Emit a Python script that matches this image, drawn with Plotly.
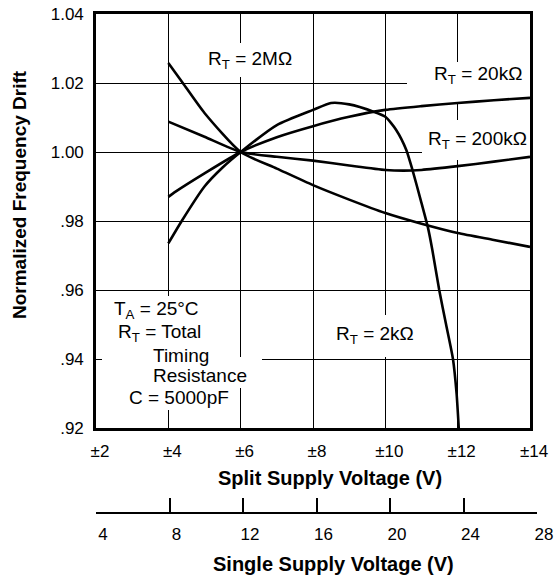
import plotly.graph_objects as go

# ---------------- data ----------------
x_2M = [4.0, 4.4, 5.0, 6.0, 7.0, 8.0, 9.0, 10.0, 11.0, 12.0, 13.0, 14.0]
y_2M = [1.0258, 1.020, 1.0113, 1.000, 0.9952, 0.9904, 0.9862, 0.9823, 0.9792, 0.9765, 0.9745, 0.9725]

x_200k = [4.0, 5.0, 6.0, 7.0, 8.0, 9.0, 10.0, 10.5, 11.0, 12.0, 13.0, 14.0]
y_200k = [1.0088, 1.0044, 1.000, 0.9986, 0.9975, 0.9961, 0.9948, 0.9946, 0.9948, 0.9959, 0.9972, 0.9986]

x_20k = [4.0, 4.2, 5.0, 6.0, 7.0, 8.0, 9.0, 10.0, 11.0, 12.0, 13.0, 14.0]
y_20k = [0.9870, 0.9885, 0.9938, 1.000, 1.0043, 1.0075, 1.0102, 1.0122, 1.0133, 1.0142, 1.0150, 1.0157]

x_2k = [4.0, 4.37, 5.0, 5.5, 6.0, 7.0, 8.0, 8.5, 9.0, 9.67, 10.0, 10.3, 10.58, 10.75, 10.98, 11.18,
        11.3, 11.49, 11.68, 11.87, 11.97, 12.03]
y_2k = [0.9735, 0.980, 0.990, 0.9955, 1.000, 1.0078, 1.0122, 1.0142, 1.0138, 1.0117, 1.0102, 1.0064,
        1.0006, 0.9948, 0.986, 0.978, 0.9716, 0.960, 0.950, 0.940, 0.930, 0.920]

split_ticks = [2, 4, 6, 8, 10, 12, 14]
split_labels = ["±2", "±4", "±6", "±8", "±10", "±12", "±14"]
single_ticks = [4, 8, 12, 16, 20, 24, 28]
single_labels = ["4", "8", "12", "16", "20", "24", "28"]
y_ticks = [0.92, 0.94, 0.96, 0.98, 1.00, 1.02, 1.04]
y_labels = [".92", ".94", ".96", ".98", "1.00", "1.02", "1.04"]

curve_labels = ["R<sub>T</sub> = 2MΩ", "R<sub>T</sub> = 20kΩ", "R<sub>T</sub> = 200kΩ", "R<sub>T</sub> = 2kΩ"]
note_lines = ["T<sub>A</sub> = 25°C", "R<sub>T</sub> = Total", "Timing", "Resistance", "C = 5000pF"]

# ---------------- layout geometry (page pixels) ----------------
W, H = 554, 575
L, R, T, B = 96, 16, 14, 63
PW, PH = W - L - R, H - T - B
FONT = "Liberation Sans, Arial, Helvetica, sans-serif"
X0, X1 = 2, 14
Y0, Y1 = 0.92, 1.04
PLOT_LEFT, PLOT_TOP, PLOT_RIGHT, PLOT_BOTTOM = 96, 14, 530, 428


def px(xp):  # page pixel -> paper x
    return (xp - PLOT_LEFT) / PW


def py(yp):  # page pixel -> paper y
    return (H - B - yp) / PH


def dx(xp):  # page pixel -> split-axis data
    return X0 + (xp - PLOT_LEFT) / (PLOT_RIGHT - PLOT_LEFT) * (X1 - X0)


def dy(yp):  # page pixel -> y data
    return Y1 - (yp - PLOT_TOP) / (PLOT_BOTTOM - PLOT_TOP) * (Y1 - Y0)


fig = go.Figure()
for xs, ys in [(x_2M, y_2M), (x_200k, y_200k), (x_20k, y_20k), (x_2k, y_2k)]:
    fig.add_trace(go.Scatter(x=xs, y=ys, mode="lines",
                             line=dict(color="black", width=2.6, shape="spline", smoothing=0.6),
                             hoverinfo="skip", showlegend=False))

# dummy trace to carry the single-supply axis
fig.add_trace(go.Scatter(x=[single_ticks[0], single_ticks[-1]], y=[0, 0], xaxis="x2", yaxis="y2",
                         mode="markers", marker=dict(opacity=0), hoverinfo="skip", showlegend=False))

fig.update_layout(
    template="none",
    width=W, height=H,
    margin=dict(l=L, r=R, t=T, b=B, autoexpand=False),
    paper_bgcolor="white", plot_bgcolor="rgba(0,0,0,0)",
    font=dict(family=FONT, size=17, color="black"),
    xaxis=dict(range=[X0, X1], domain=[0, (PLOT_RIGHT - PLOT_LEFT) / PW], tickvals=split_ticks,
               ticktext=split_labels, ticklabeloverflow="allow",
               showgrid=True, gridcolor="black", gridwidth=1.4, zeroline=False, automargin=False,
               showline=True, mirror=True, linecolor="black", linewidth=2.6,
               ticks="", ticklabelstandoff=6, ticklabelshift=4, anchor="y"),
    yaxis=dict(range=[Y0, Y1], domain=[(H - B - PLOT_BOTTOM) / PH, 1], tickvals=y_ticks, ticktext=y_labels,
               ticklabeloverflow="allow",
               showgrid=True, gridcolor="black", gridwidth=1.4, zeroline=False, automargin=False,
               showline=True, mirror=True, linecolor="black", linewidth=2.6,
               ticks="", ticklabelstandoff=6, anchor="x"),
    xaxis2=dict(range=[4, 28], domain=[0, 441 / PW], tickvals=single_ticks, ticktext=single_labels,
                ticklabeloverflow="allow",
                showgrid=False, zeroline=False, showline=True, linecolor="black", linewidth=2,
                ticks="inside", ticklen=14, tickwidth=2, tickcolor="black", automargin=False,
                ticklabelstandoff=6, ticklabelshift=7, anchor="y2"),
    yaxis2=dict(domain=[0, 0.005], visible=False, range=[-1, 1], anchor="x2", automargin=False),
)

# white gaps in the grid behind text (between grid and curves)
gaps = [(198, 43, 302, 77), (407, 62, 530, 103), (422, 120, 530, 160), (328, 315, 422, 357),
        (102, 296, 214, 366), (143, 357, 262, 388), (120, 386, 236, 410)]
for x0, y0, x1, y1 in gaps:
    fig.add_shape(type="rect", xref="x", yref="y", x0=dx(x0), x1=dx(x1), y0=dy(y1), y1=dy(y0),
                  fillcolor="white", line=dict(width=0), layer="between")

# curve labels
for txt, (xc, yc) in zip(curve_labels, [(250, 60), (478, 75), (477, 140), (375, 335)]):
    fig.add_annotation(text=txt, xref="paper", yref="paper", x=px(xc), y=py(yc),
                       showarrow=False, font=dict(size=19), xanchor="center", yanchor="middle")

# condition notes
for txt, (xc, yc) in zip(note_lines, [(156, 310), (159, 333), (181, 355), (200, 375), (179, 397)]):
    fig.add_annotation(text=txt, xref="paper", yref="paper", x=px(xc), y=py(yc),
                       showarrow=False, font=dict(size=19), xanchor="center", yanchor="middle")

# axis titles
fig.add_annotation(text="<b>Normalized Frequency Drift</b>", xref="paper", yref="paper",
                   x=px(20), y=py(195), textangle=-90, showarrow=False, font=dict(size=19),
                   xanchor="center", yanchor="middle")
fig.add_annotation(text="<b>Split Supply Voltage (V)</b>", xref="paper", yref="paper",
                   x=px(330), y=py(478), showarrow=False, font=dict(size=20),
                   xanchor="center", yanchor="middle")
fig.add_annotation(text="<b>Single Supply Voltage (V)</b>", xref="paper", yref="paper",
                   x=px(333), y=py(564), showarrow=False, font=dict(size=20),
                   xanchor="center", yanchor="middle")

fig.write_html("out.html", config={"displayModeBar": False},
               post_script="document.body.style.margin='0';"
                           "document.documentElement.style.overflow='hidden';")
